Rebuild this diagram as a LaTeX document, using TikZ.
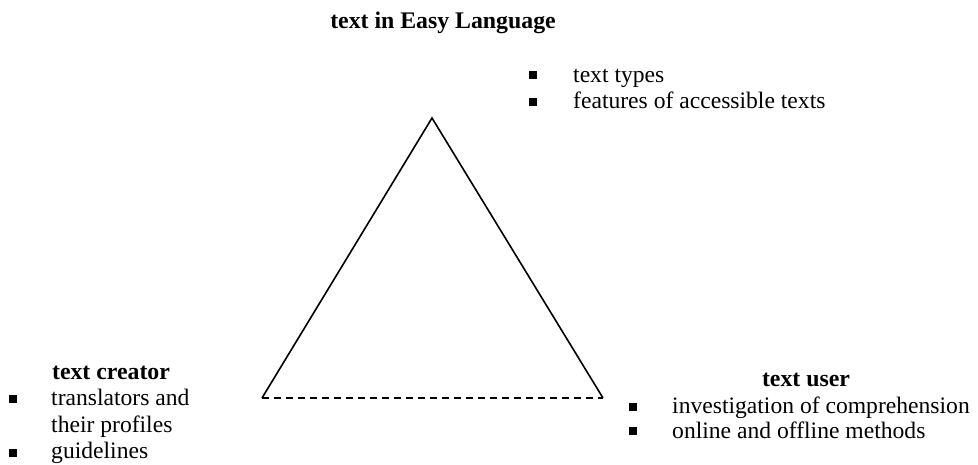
\documentclass[tikz,border=0pt]{standalone}
\usepackage{fontspec}
\setmainfont{Liberation Serif}
\begin{document}
\begin{tikzpicture}[x=1pt,y=-1pt,
  lbl/.style={anchor=base west,inner sep=0pt,font=\fontsize{23.6}{26}\selectfont},
  ttl/.style={anchor=base,inner sep=0pt,font=\fontsize{23.8}{26}\selectfont\bfseries},
  bul/.style={fill=black,rectangle,inner sep=0pt,minimum size=7.5pt}]
\useasboundingbox (0,0) rectangle (978,465);
% triangle
\coordinate (top) at (432,118);
\coordinate (bl) at (262,398);
\coordinate (br) at (603,398);
\draw[line width=1.6pt,line join=miter] (bl) -- (top) -- (br);
\draw[line width=1.6pt,dash pattern=on 7pt off 5pt] (bl) -- (br);
% top
\node[ttl] (t1) at (443,29) {text in Easy Language};
\node[bul] (b1) at (533,75) {};
\node[lbl] (i1) at (573,83) {text types};
\node[bul] (b2) at (533,102) {};
\node[lbl] (i2) at (573,109) {features of accessible texts};
% left
\node[ttl] (t2) at (111,379) {text creator};
\node[bul] (b3) at (13,399) {};
\node[lbl] (i3) at (51,405) {translators and};
\node[lbl] (i4) at (51,432) {their profiles};
\node[bul] (b4) at (13,453) {};
\node[lbl] (i5) at (51,458) {guidelines};
% right
\node[ttl] (t3) at (806,386) {text user};
\node[bul] (b5) at (633,407) {};
\node[lbl] (i6) at (672,413) {investigation of comprehension};
\node[bul] (b6) at (633,431) {};
\node[lbl] (i7) at (672,438) {online and offline methods};
\end{tikzpicture}
\end{document}
